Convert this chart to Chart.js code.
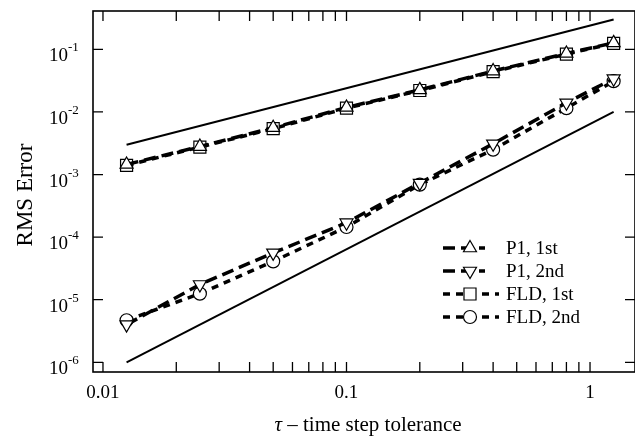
<!doctype html>
<html lang="en">
  <head>
    <meta charset="UTF-8" />
    <title>RMS Error vs time step tolerance</title>
    <script src="https://cdn.jsdelivr.net/npm/chart.js@4.4.0/dist/chart.umd.min.js"></script>
    <style>
      body {
        margin: 0;
        background: #fff;
      }
      canvas {
        display: block;
      }
    </style>
  </head>
  <body>
    <canvas id="chart" width="635" height="438"></canvas>
    <script>
      // time step tolerance values (x) and RMS errors
      const tau = [0.0125, 0.025, 0.05, 0.1, 0.2, 0.4, 0.8, 1.25];
      const p1First = [1.45e-3, 2.8e-3, 5.6e-3, 1.18e-2, 2.25e-2, 4.5e-2, 8.6e-2, 0.127];
      const p1Second = [4.0e-6, 1.75e-5, 5.6e-5, 1.7e-4, 7.3e-4, 3.1e-3, 1.4e-2, 0.034];
      const fldFirst = [1.4e-3, 2.75e-3, 5.4e-3, 1.15e-2, 2.2e-2, 4.4e-2, 8.4e-2, 0.125];
      const fldSecond = [4.7e-6, 1.25e-5, 4.1e-5, 1.45e-4, 6.9e-4, 2.5e-3, 1.15e-2, 0.031];

      // reference slopes (1st and 2nd order)
      const refTau = [0.0125, 1.25];
      const refFirst = [3e-3, 0.3];
      const refSecond = [1e-6, 1e-2];

      const seriesLabels = ["P1, 1st", "P1, 2nd", "FLD, 1st", "FLD, 2nd"];
      const xMajor = [0.01, 0.1, 1];
      const xMinor = [2, 3, 4, 5, 6, 7, 8, 9];
      const yMajor = [1e-6, 1e-5, 1e-4, 1e-3, 1e-2, 1e-1];

      const pts = (xs, ys) => xs.map((x, i) => ({ x: x, y: ys[i] }));
      const serif = "'Liberation Serif', 'DejaVu Serif', serif";

      function series(label, ys, style, dash, radius, rot, legendLen) {
        return {
          label: label,
          data: pts(tau, ys),
          borderColor: "#000",
          borderWidth: 3.5,
          borderDash: dash,
          pointStyle: style,
          pointRotation: rot,
          pointRadius: radius,
          pointBorderWidth: 1.2,
          pointBackgroundColor: "#fff",
          pointBorderColor: "#000",
          legendLen: legendLen,
        };
      }

      function refLine(ys) {
        return {
          label: "",
          data: pts(refTau, ys),
          borderColor: "#000",
          borderWidth: 2,
          pointRadius: 0,
        };
      }

      const framePlugin = {
        id: "frame",
        afterDraw(chart) {
          const ctx = chart.ctx;
          const a = chart.chartArea;
          const xs = chart.scales.x;
          const ys = chart.scales.y;
          ctx.save();
          ctx.strokeStyle = "#000";
          ctx.lineWidth = 1.6;
          ctx.strokeRect(a.left, a.top, a.right - a.left, a.bottom - a.top);

          // inward ticks on all four sides
          const tl = 10;
          ctx.lineWidth = 1.3;
          ctx.beginPath();
          xMajor.forEach((m) => {
            [1].concat(xMinor).forEach((k) => {
              const v = m * k;
              if (v < xs.min || v > xs.max) return;
              const px = xs.getPixelForValue(v);
              ctx.moveTo(px, a.bottom);
              ctx.lineTo(px, a.bottom - tl);
              ctx.moveTo(px, a.top);
              ctx.lineTo(px, a.top + tl);
            });
          });
          yMajor.forEach((v) => {
            const py = ys.getPixelForValue(v);
            ctx.moveTo(a.left, py);
            ctx.lineTo(a.left + tl, py);
            ctx.moveTo(a.right, py);
            ctx.lineTo(a.right - tl, py);
          });
          ctx.stroke();

          // tick labels
          ctx.fillStyle = "#000";
          ctx.font = "19px " + serif;
          ctx.textAlign = "center";
          ctx.textBaseline = "alphabetic";
          xMajor.forEach((v) => {
            ctx.fillText(String(v), xs.getPixelForValue(v), a.bottom + 26);
          });
          yMajor.forEach((v) => {
            const py = ys.getPixelForValue(v);
            const exp = Math.round(Math.log10(v));
            ctx.font = "19px " + serif;
            ctx.textAlign = "left";
            const x0 = a.left - 44;
            ctx.fillText("10", x0, py + 12);
            const w = ctx.measureText("10").width;
            ctx.font = "13px " + serif;
            ctx.fillText(String(exp).replace("-", "\u2010"), x0 + w, py + 2);
          });

          // axis titles
          ctx.font = "italic 21px " + serif;
          const t1 = "\u03c4";
          const rest = " \u2013 time step tolerance";
          const w1 = ctx.measureText(t1).width;
          ctx.font = "21px " + serif;
          const w2 = ctx.measureText(rest).width;
          const cx = 368;
          const sx = cx - (w1 + w2) / 2;
          ctx.textAlign = "left";
          ctx.font = "italic 21px " + serif;
          ctx.fillText(t1, sx, a.bottom + 59);
          ctx.font = "21px " + serif;
          ctx.fillText(rest, sx + w1, a.bottom + 59);

          ctx.save();
          ctx.translate(32, 195);
          ctx.rotate(-Math.PI / 2);
          ctx.textAlign = "center";
          ctx.font = "23px " + serif;
          ctx.fillText("RMS Error", 0, 0);
          ctx.restore();

          // legend
          const lx = 443;
          const rowY = [248, 271, 294, 317];
          chart.data.datasets
            .filter((d) => d.label)
            .forEach((d, i) => {
              const y = rowY[i];
              ctx.save();
              ctx.strokeStyle = "#000";
              ctx.lineWidth = d.borderWidth;
              ctx.setLineDash(d.borderDash || []);
              ctx.beginPath();
              ctx.moveTo(lx, y);
              ctx.lineTo(lx + d.legendLen, y);
              ctx.stroke();
              ctx.restore();
              ctx.save();
              ctx.fillStyle = "#fff";
              ctx.strokeStyle = "#000";
              ctx.lineWidth = d.pointBorderWidth;
              Chart.helpers.drawPoint(ctx, {
                pointStyle: d.pointStyle,
                rotation: d.pointRotation,
                radius: d.pointRadius,
                borderWidth: d.pointBorderWidth,
              }, lx + 27, y);
              ctx.restore();
              ctx.font = "19px " + serif;
              ctx.textAlign = "left";
              ctx.textBaseline = "middle";
              ctx.fillText(d.label, 506, y + 1);
            });
          ctx.restore();
        },
      };

      new Chart(document.getElementById("chart"), {
        type: "line",
        data: {
          datasets: [
            series(seriesLabels[0], p1First, "triangle", [12, 6], 7.5, 0, 42),
            series(seriesLabels[1], p1Second, "triangle", [12, 6], 7.5, 180, 42),
            series(seriesLabels[2], fldFirst, "rect", [7, 6], 8.5, 0, 56),
            series(seriesLabels[3], fldSecond, "circle", [7, 6], 6.5, 0, 56),
            refLine(refFirst),
            refLine(refSecond),
          ],
        },
        options: {
          responsive: false,
          animation: false,
          devicePixelRatio: 1,
          layout: {
            autoPadding: false,
            padding: { left: 93, top: 11, right: -1, bottom: 66 },
          },
          plugins: { legend: { display: false }, tooltip: { enabled: false } },
          scales: {
            x: { type: "logarithmic", min: 0.0091, max: 1.53, display: false },
            y: { type: "logarithmic", min: 7e-7, max: 0.41, display: false },
          },
        },
        plugins: [framePlugin],
      });
    </script>
  </body>
</html>
